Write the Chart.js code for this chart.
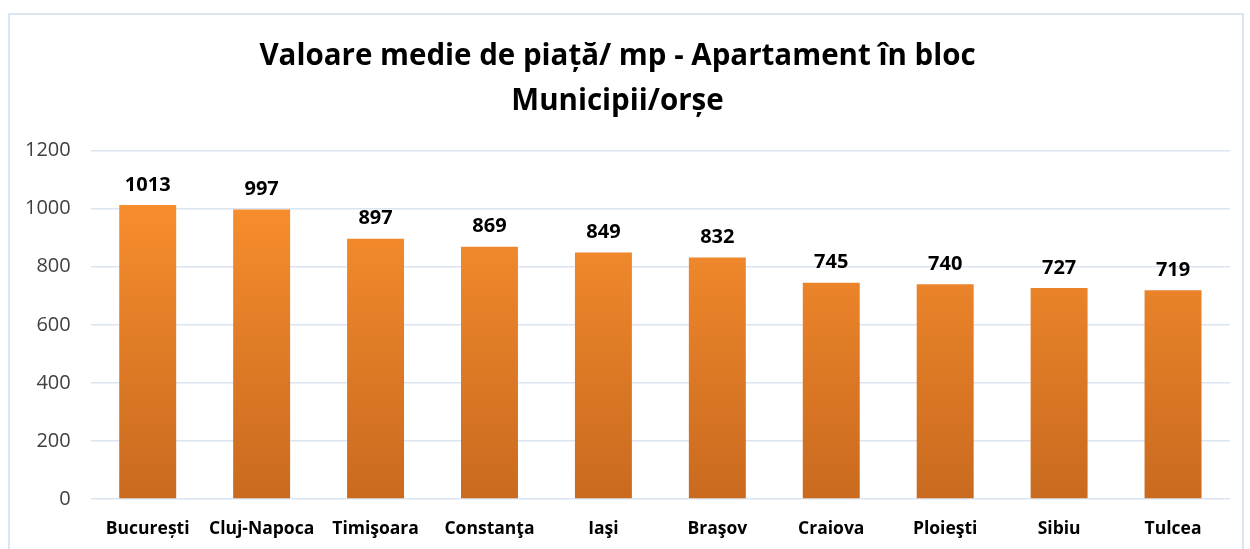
<!DOCTYPE html>
<html>
<head>
<meta charset="utf-8">
<script src="https://cdn.jsdelivr.net/npm/chart.js@4/dist/chart.umd.min.js"></script>
<style>
  body { margin: 0; background: #fff; }
  #wrap { position: absolute; left: 0; top: 0; width: 1250px; height: 549px; }
  #frame { position: absolute; left: 8px; top: 13px; width: 1236px; height: 545px; border: 2px solid #dce6f2; box-sizing: border-box; }
</style>
</head>
<body>
<div id="wrap">
  <div id="frame"></div>
  <canvas id="barChart" width="1250" height="549"></canvas>
</div>
<script>
// Chart data
const cities = ["București", "Cluj-Napoca", "Timişoara", "Constanţa", "Iaşi", "Braşov", "Craiova", "Ploieşti", "Sibiu", "Tulcea"];
const pricePerSqm = [1013, 997, 897, 869, 849, 832, 745, 740, 727, 719];
const titleLines = ["Valoare medie de piață/ mp - Apartament în bloc", "Municipii/orșe"];

// vertical orange gradient like the Excel fill
function barGradient(context) {
    const chart = context.chart;
    const area = chart.chartArea;
    if (!area) return '#f58d2c';
    const g = chart.ctx.createLinearGradient(0, area.top, 0, area.bottom);
    g.addColorStop(0, '#ff9330');
    g.addColorStop(1, '#c96a1f');
    return g;
}

// draws the value above each bar
const valueLabels = {
    id: 'valueLabels',
    afterDatasetsDraw(chart) {
        const ctx = chart.ctx;
        const meta = chart.getDatasetMeta(0);
        ctx.save();
        ctx.font = 'bold 20px "Open Sans", sans-serif';
        ctx.fillStyle = '#000';
        ctx.textAlign = 'center';
        ctx.textBaseline = 'bottom';
        meta.data.forEach((bar, i) => {
            ctx.fillText(chart.data.datasets[0].data[i], bar.x, bar.y - 10);
        });
        ctx.restore();
    }
};

document.addEventListener("DOMContentLoaded", function() {
    const ctx = document.getElementById('barChart').getContext('2d');
    new Chart(ctx, {
        type: 'bar',
        data: {
            labels: cities,
            datasets: [{
                data: pricePerSqm,
                backgroundColor: barGradient,
                barPercentage: 0.5,
                categoryPercentage: 1.0
            }]
        },
        options: {
            responsive: false,
            animation: false,
            layout: { padding: { left: 5, right: 20, top: 0, bottom: -3 } },
            plugins: {
                legend: { display: false },
                tooltip: { enabled: false },
                title: {
                    display: true,
                    text: titleLines,
                    color: '#000',
                    font: { family: '"Open Sans", sans-serif', size: 29.5, weight: 'bold', lineHeight: 1.52 },
                    padding: { top: 34, bottom: 27 }
                }
            },
            scales: {
                x: {
                    grid: { display: false },
                    border: { display: false },
                    ticks: {
                        color: '#000',
                        padding: 12,
                        maxRotation: 0,
                        minRotation: 0,
                        autoSkip: false,
                        font: { family: '"Open Sans", sans-serif', size: 17.5, weight: 'bold' }
                    }
                },
                y: {
                    min: 0,
                    max: 1200,
                    border: { display: false },
                    grid: { color: '#dbe5f1', lineWidth: 1.5, drawTicks: false },
                    ticks: {
                        stepSize: 200,
                        color: '#404040',
                        padding: 20,
                        font: { family: '"Open Sans", sans-serif', size: 20 },
                        callback: (v) => String(v)
                    }
                }
            }
        },
        plugins: [valueLabels]
    });
});
</script>
</body>
</html>
